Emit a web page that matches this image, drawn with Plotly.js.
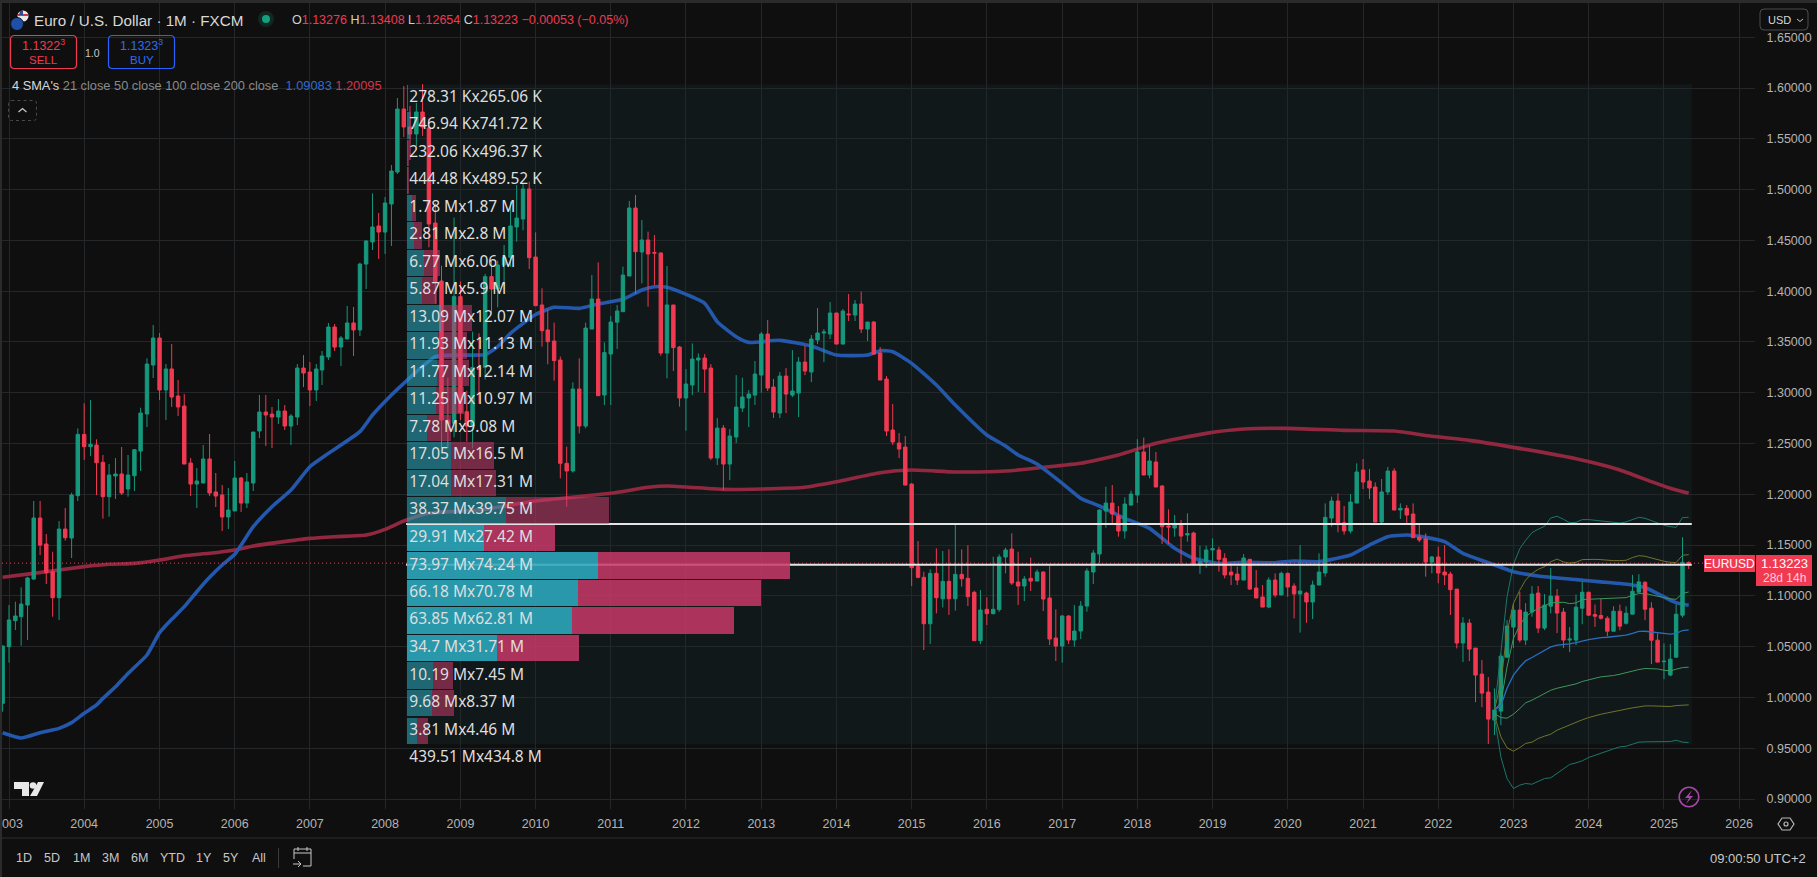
<!DOCTYPE html>
<html><head><meta charset="utf-8">
<script src="https://cdn.plot.ly/plotly-3.0.1.min.js"></script>
<style>html,body{margin:0;padding:0;background:#2b2b2b;overflow:hidden;width:1817px;height:877px}
#c{position:absolute;left:2px;top:3px;width:1815px;height:874px}</style></head><body><div id="c"></div>
<script>
// monthly candles, Dec 2002 .. May 2025
const firstMonth=[2002,12];
const opens=[.9942,
1.0500,1.0756,1.0795,1.0910,1.1166,1.1767,1.1511,1.1238,1.0982,1.1658,1.1570,1.1987,
1.2590,1.2469,1.2485,1.2315,1.1977,1.2180,1.2200,1.2052,1.2183,1.2426,1.2791,1.3273,
1.3539,1.3027,1.3234,1.2968,1.2869,1.2308,1.2101,1.2111,1.2348,1.2023,1.1993,1.1777,
1.1836,1.2161,1.1914,1.2111,1.2623,1.2810,1.2790,1.2761,1.2820,1.2672,1.2761,1.3243,
1.3204,1.3027,1.3224,1.3352,1.3647,1.3450,1.3529,1.3687,1.3618,1.4267,1.4484,1.4642,
1.4582,1.4858,1.5173,1.5793,1.5616,1.5547,1.5764,1.5606,1.4671,1.4100,1.2730,1.2700,
1.3946,1.2813,1.2672,1.3250,1.3250,1.4143,1.4021,1.4258,1.4333,1.4632,1.4710,1.5006,
1.4336,1.3864,1.3618,1.3509,1.3322,1.2305,1.2230,1.3037,1.2672,1.3627,1.3923,1.2978,
1.3381,1.3695,1.3798,1.4149,1.4819,1.4386,1.4504,1.4380,1.4376,1.3391,1.3864,1.3450,
1.2948,1.3076,1.3322,1.3342,1.3243,1.2357,1.2652,1.2298,1.2564,1.2849,1.2948,1.2977,
1.3174,1.3578,1.3056,1.2800,1.3164,1.2977,1.2997,1.3302,1.3204,1.3519,1.3588,1.3578,
1.3785,1.3479,1.3775,1.3765,1.3873,1.3627,1.3696,1.3391,1.3135,1.2633,1.2505,1.2465,
1.2101,1.1288,1.1183,1.0726,1.1222,1.0972,1.1143,1.0972,1.1212,1.1173,1.1035,1.0559,
1.0868,1.0825,1.0865,1.1383,1.1461,1.1137,1.1097,1.1173,1.1146,1.1235,1.0979,1.0585,
1.0506,1.0802,1.0565,1.0654,1.0900,1.1235,1.1412,1.1836,1.1914,1.1786,1.1639,1.1895,
1.1993,1.2417,1.2190,1.2318,1.2082,1.1688,1.1668,1.1708,1.1600,1.1619,1.1304,1.1337,
1.1452,1.1452,1.1370,1.1235,1.1215,1.1156,1.1360,1.1077,1.0989,1.0890,1.1156,1.1009,
1.1222,1.1097,1.1019,1.1028,1.0940,1.1107,1.1225,1.1766,1.1934,1.1721,1.1639,1.1914,
1.2239,1.2131,1.2072,1.1727,1.2023,1.2229,1.1845,1.1862,1.1806,1.1580,1.1560,1.1333,
1.1383,1.1235,1.1215,1.1067,1.0536,1.0732,1.0486,1.0230,1.0053,.9777,.9866,1.0397,
1.0693,1.0860,1.0565,1.0841,1.1028,1.0683,1.0899,1.0998,1.0841,1.0565,1.0565,1.0879,
1.1036,1.0816,1.0807,1.0780,1.0652,1.0849,1.0731,1.0820,1.1036,1.1134,1.0879,1.0564,
1.0352,1.0220,1.0397,1.0810,1.13276];
const closes=[1.0507,
1.0763,1.0802,1.0920,1.1176,1.1767,1.1501,1.1228,1.0982,1.1658,1.1573,1.1993,1.2590,
1.2469,1.2492,1.2311,1.1977,1.2190,1.2200,1.2013,1.2190,1.2439,1.2800,1.3283,1.3539,
1.3027,1.3234,1.2958,1.2860,1.2298,1.2101,1.2131,1.2348,1.2013,1.1983,1.1777,1.1845,
1.2161,1.1914,1.2121,1.2613,1.2810,1.2781,1.2761,1.2820,1.2672,1.2771,1.3243,1.3194,
1.3027,1.3234,1.3362,1.3647,1.3450,1.3539,1.3687,1.3618,1.4267,1.4494,1.4632,1.4582,
1.4868,1.5183,1.5793,1.5616,1.5547,1.5764,1.5616,1.4661,1.4090,1.2732,1.2696,1.3946,
1.2804,1.2672,1.3250,1.3230,1.4143,1.4021,1.4258,1.4330,1.4642,1.4720,1.5006,1.4330,
1.3857,1.3611,1.3503,1.3316,1.2305,1.2230,1.3037,1.2672,1.3637,1.3923,1.2971,1.3395,
1.3696,1.3805,1.4159,1.4819,1.4389,1.4504,1.4366,1.4375,1.3391,1.3864,1.3444,1.2948,
1.3086,1.3332,1.3342,1.3233,1.2357,1.2652,1.2298,1.2574,1.2859,1.2958,1.2987,1.3184,
1.3578,1.3046,1.2810,1.3164,1.2987,1.3017,1.3302,1.3214,1.3529,1.3588,1.3598,1.3785,
1.3479,1.3804,1.3768,1.3873,1.3627,1.3696,1.3381,1.3125,1.2623,1.2515,1.2446,1.2091,
1.1278,1.1183,1.0726,1.1222,1.0982,1.1143,1.0972,1.1212,1.1169,1.0992,1.0559,1.0861,
1.0825,1.0868,1.1383,1.1452,1.1127,1.1097,1.1166,1.1146,1.1235,1.0969,1.0575,1.0506,
1.0802,1.0565,1.0654,1.0900,1.1245,1.1422,1.1845,1.1914,1.1806,1.1639,1.1904,1.2003,
1.2417,1.2190,1.2328,1.2072,1.1681,1.1678,1.1708,1.1589,1.1613,1.1304,1.1337,1.1452,
1.1465,1.1360,1.1206,1.1206,1.1156,1.1373,1.1068,1.0979,1.0890,1.1156,1.1009,1.1222,
1.1087,1.1019,1.1048,1.0940,1.1107,1.1235,1.1773,1.1934,1.1721,1.1639,1.1924,1.2220,
1.2121,1.2062,1.1727,1.2023,1.2229,1.1845,1.1862,1.1796,1.1573,1.1550,1.1333,1.1383,
1.1225,1.1206,1.1061,1.0536,1.0732,1.0476,1.0220,1.0043,.9787,.9876,1.0407,1.0703,
1.0860,1.0565,1.0841,1.1018,1.0683,1.0909,1.0998,1.0831,1.0565,1.0575,1.0889,1.1036,
1.0810,1.0800,1.0780,1.0652,1.0849,1.0702,1.0830,1.1046,1.1138,1.0869,1.0564,1.0348,
1.0357,1.0377,1.0820,1.1331,1.13223];
const highs=[1.0510,
1.0910,1.0943,1.1084,1.1189,1.1934,1.1934,1.1609,1.1435,1.1737,1.1865,1.2016,1.2649,
1.2896,1.2928,1.2541,1.2387,1.2298,1.2357,1.2466,1.2387,1.2446,1.2853,1.3339,1.3667,
1.3588,1.3283,1.3480,1.3125,1.2987,1.2357,1.2259,1.2485,1.2594,1.2210,1.2092,1.2062,
1.2328,1.2170,1.2210,1.2613,1.2978,1.2978,1.2860,1.2938,1.2879,1.2791,1.3283,1.3371,
1.3303,1.3283,1.3411,1.3687,1.3677,1.3559,1.3854,1.3844,1.4280,1.4500,1.4963,1.4770,
1.4927,1.5242,1.5902,1.6020,1.5823,1.5853,1.6038,1.5700,1.4867,1.4250,1.3150,1.4724,
1.4094,1.3020,1.3600,1.3585,1.4170,1.4300,1.4300,1.4455,1.4881,1.5045,1.5062,1.5078,
1.4579,1.4028,1.3821,1.3690,1.3355,1.2469,1.3102,1.3339,1.3690,1.4159,1.4284,1.3496,
1.3755,1.3864,1.4241,1.4888,1.4947,1.4701,1.4586,1.4553,1.4380,1.4248,1.3864,1.3460,
1.3233,1.3486,1.3387,1.3381,1.3282,1.2751,1.2682,1.2643,1.3174,1.3148,1.3027,1.3312,
1.3598,1.3716,1.3135,1.3204,1.3243,1.3420,1.3351,1.3460,1.3568,1.3834,1.3627,1.3893,
1.3785,1.3824,1.3972,1.3913,1.3995,1.3696,1.3706,1.3450,1.3164,1.2889,1.2603,1.2574,
1.2110,1.1540,1.1238,1.1261,1.1468,1.1442,1.1458,1.1698,1.1458,1.1498,1.1051,1.1058,
1.0986,1.1386,1.1409,1.1475,1.1616,1.1435,1.1195,1.1376,1.1261,1.1240,1.1297,1.0867,
1.0811,1.0810,1.0910,1.0949,1.1271,1.1452,1.1850,1.2075,1.2092,1.1885,1.1970,1.2036,
1.2544,1.2558,1.2479,1.2417,1.2090,1.1852,1.1796,1.1747,1.1813,1.1632,1.1494,1.1494,
1.1566,1.1484,1.1419,1.1320,1.1288,1.1412,1.1365,1.1255,1.1107,1.1183,1.1222,1.1238,
1.1230,1.1124,1.1501,1.1041,1.1150,1.1419,1.1911,1.1977,1.2010,1.1885,1.2003,1.2305,
1.2348,1.2249,1.2118,1.2151,1.2269,1.2256,1.1911,1.1895,1.1911,1.1698,1.1616,1.1393,
1.1484,1.1501,1.1238,1.1067,1.0791,1.0772,1.0486,1.0368,1.0201,1.0089,1.0434,1.0762,
1.0926,1.1038,1.0929,1.1097,1.1097,1.1018,1.1274,1.1067,1.0880,1.0693,1.1013,1.1138,
1.1040,1.0915,1.0974,1.0800,1.0898,1.0915,1.0898,1.1207,1.1213,1.1144,1.0938,1.0630,
1.0531,1.0525,1.0918,1.1577,1.13408];
const lows=[.9860,
1.0343,1.0664,1.0510,1.0566,1.1156,1.1402,1.1117,1.0795,1.0762,1.1544,1.1373,1.1934,
1.2338,1.2377,1.1992,1.1760,1.1780,1.1954,1.1993,1.1977,1.2032,1.2229,1.2663,1.3145,
1.2928,1.2732,1.2860,1.2771,1.2298,1.1983,1.1865,1.2111,1.1983,1.1875,1.1639,1.1658,
1.1836,1.1826,1.1865,1.2032,1.2554,1.2476,1.2456,1.2692,1.2633,1.2485,1.2682,1.3056,
1.2869,1.2919,1.3076,1.3322,1.3411,1.3263,1.3529,1.3362,1.3559,1.4021,1.4405,1.4317,
1.4366,1.4445,1.5154,1.5518,1.5291,1.5429,1.5528,1.4432,1.3878,1.2453,1.2453,1.2561,
1.2730,1.2518,1.2453,1.2890,1.3130,1.3782,1.3841,1.4061,1.4241,1.4487,1.4600,1.4218,
1.3857,1.3454,1.3280,1.3119,1.2157,1.1878,1.2213,1.2600,1.2650,1.3627,1.2971,1.2879,
1.2879,1.3431,1.3798,1.4149,1.3972,1.4077,1.3847,1.4061,1.3365,1.3142,1.3214,1.2863,
1.2626,1.2977,1.3007,1.3000,1.2337,1.2288,1.2042,1.2140,1.2505,1.2810,1.2662,1.2879,
1.3000,1.3017,1.2751,1.2751,1.2800,1.2958,1.2761,1.3174,1.3105,1.3479,1.3302,1.3529,
1.3479,1.3479,1.3706,1.3706,1.3588,1.3509,1.3371,1.3125,1.2574,1.2485,1.2357,1.2091,
1.1097,1.1173,1.0467,1.0526,1.0828,1.0887,1.0812,1.0854,1.1091,1.0900,1.0559,1.0526,
1.0713,1.0818,1.0844,1.1222,1.1107,1.0910,1.0949,1.1048,1.1146,1.0851,1.0516,1.0359,
1.0342,1.0526,1.0500,1.0575,1.0844,1.1117,1.1320,1.1671,1.1714,1.1583,1.1563,1.1885,
1.1914,1.2190,1.2157,1.2072,1.1511,1.1511,1.1583,1.1320,1.1534,1.1304,1.1215,1.1278,
1.1304,1.1238,1.1173,1.1107,1.1107,1.1156,1.1058,1.0979,1.0890,1.0879,1.0985,1.1009,
1.0992,1.0779,1.0638,1.0736,1.0772,1.1107,1.1189,1.1681,1.1626,1.1603,1.1616,1.1914,
1.2052,1.1954,1.1727,1.1704,1.1993,1.1845,1.1757,1.1714,1.1573,1.1530,1.1189,1.1222,
1.1124,1.1107,1.0812,1.0483,1.0348,1.0358,.9954,.9905,.9541,.9630,.9728,1.0390,
1.0486,1.0542,1.0516,1.0795,1.0634,1.0663,1.0827,1.0634,1.0486,1.0447,1.0515,1.0721,
1.0805,1.0695,1.0767,1.0603,1.0652,1.0662,1.0718,1.0820,1.1036,1.0761,1.0328,1.0348,
1.0180,1.0210,1.0390,1.0787,1.12654];

// moving averages
const sma100Dates=['2002-12','2003-03','2003-06','2003-09','2003-11','2004-01','2004-03','2004-04','2004-06','2004-08','2004-11','2005-01','2005-03','2005-05','2005-07','2005-09','2005-11','2006-01','2006-04','2006-07','2006-10','2007-01','2007-04','2007-09','2007-11','2008-02','2008-04','2008-09','2009-01','2009-05','2009-07','2009-09','2010-01','2010-04','2010-08','2010-11','2011-03','2011-06','2011-08','2011-10','2011-12','2012-04','2012-06','2012-09','2012-11','2013-04','2013-09','2014-01','2014-06','2014-08','2014-10','2015-01','2015-05','2015-08','2016-01','2016-04','2016-06','2016-09','2017-01','2017-04','2017-07','2017-11','2018-03','2018-07','2018-10','2019-02','2019-06','2019-11','2020-02','2020-06','2020-11','2021-02','2021-05','2021-08','2021-11','2022-02','2022-05','2022-09','2023-01','2023-05','2023-11','2024-03','2024-08','2024-10','2025-01','2025-03','2025-05'];
const sma100=[.9653,.9601,.9653,.9696,.9752,.9844,.9926,.9991,1.0106,1.0237,1.0418,1.0638,1.0769,1.0894,1.1041,1.1183,1.1304,1.1410,1.1681,1.1878,1.2042,1.2272,1.2403,1.2617,1.2781,1.2978,1.3093,1.3355,1.3371,1.3375,1.3454,1.3585,1.3770,1.3841,1.3831,1.3874,1.3920,1.4012,1.4044,1.4038,1.3995,1.3880,1.3699,1.3552,1.3496,1.3516,1.3460,1.3371,1.3371,1.3414,1.3404,1.3289,1.3076,1.2879,1.2584,1.2476,1.2387,1.2298,1.2108,1.1960,1.1885,1.1763,1.1665,1.1468,1.1370,1.1320,1.1330,1.1327,1.1343,1.1337,1.1402,1.1501,1.1583,1.1599,1.1576,1.1534,1.1419,1.1326,1.1238,1.1195,1.1160,1.1138,1.1108,1.1082,1.0990,1.0934,1.0908];
const sma200Dates=['2002-12','2003-05','2004-01','2004-05','2004-09','2005-01','2005-05','2005-09','2006-01','2006-04','2006-08','2007-01','2007-05','2007-10','2008-01','2008-04','2008-08','2009-04','2010-01','2011-01','2011-07','2011-10','2012-07','2013-01','2013-08','2014-01','2014-08','2015-01','2015-08','2016-04','2017-01','2017-04','2017-10','2018-04','2018-12','2019-06','2020-01','2020-10','2021-06','2021-12','2022-06','2023-01','2023-11','2024-06','2024-11','2025-02','2025-05'];
const sma200=[1.1183,1.1222,1.1288,1.1311,1.1320,1.1353,1.1396,1.1419,1.1452,1.1491,1.1527,1.1566,1.1583,1.1599,1.1655,1.1737,1.1813,1.1845,1.1934,1.2010,1.2069,1.2082,1.2049,1.2052,1.2069,1.2124,1.2213,1.2239,1.2220,1.2229,1.2285,1.2305,1.2387,1.2502,1.2600,1.2643,1.2649,1.2630,1.2623,1.2571,1.2531,1.2462,1.2350,1.2240,1.2125,1.2060,1.2010];

// anchored VWAP and bands, Oct 2022 .. May 2025
const bandFirst=[2022,10];
const vwap =[.9876,.9920,1.0090,1.0220,1.0300,1.0360,1.0393,1.0426,1.0466,1.0498,1.0515,1.0520,1.0528,1.0541,1.0557,1.0570,1.0580,1.0590,1.0593,1.0600,1.0607,1.0613,1.0630,1.0650,1.0652,1.0646,1.0636,1.0630,1.0623,1.0630,1.0659,1.0666];
const upper1=[.9876,.9950,1.0300,1.0581,1.0713,1.0795,1.0844,1.0877,1.0903,1.0932,1.0932,1.0937,1.0924,1.0931,1.0964,1.0967,1.0970,1.0970,1.0970,1.0973,1.0980,1.0983,1.1006,1.1023,1.1023,1.1010,1.1000,1.0983,1.0970,1.0967,1.1023,1.1039];
const upper2=[.9876,1.0150,1.0640,1.0925,1.1057,1.1156,1.1221,1.1261,1.1287,1.1336,1.1362,1.1334,1.1324,1.1331,1.1357,1.1360,1.1360,1.1357,1.1351,1.1347,1.1347,1.1351,1.1377,1.1396,1.1390,1.1373,1.1357,1.1341,1.1331,1.1328,1.1400,1.1406];
const upper3=[.9876,1.0434,1.0992,1.1310,1.1465,1.1547,1.1623,1.1656,1.1685,1.1767,1.1784,1.1754,1.1721,1.1724,1.1751,1.1751,1.1744,1.1738,1.1728,1.1721,1.1718,1.1728,1.1751,1.1774,1.1764,1.1741,1.1718,1.1695,1.1682,1.1675,1.1770,1.1774];
const lower1=[.9842,.9802,.9796,.9835,.9891,.9947,.9973,1.0006,1.0039,1.0071,1.0091,1.0104,1.0117,1.0134,1.0157,1.0176,1.0189,1.0203,1.0209,1.0216,1.0229,1.0245,1.0262,1.0275,1.0285,1.0285,1.0281,1.0268,1.0262,1.0278,1.0294,1.0298];
const lower2=[.9825,.9612,.9504,.9471,.9507,.9547,.9560,.9596,.9619,.9638,.9678,.9704,.9734,.9753,.9780,.9802,.9822,.9835,.9848,.9861,.9875,.9888,.9898,.9907,.9917,.9917,.9917,.9911,.9911,.9920,.9927,.9927];
const lower3=[.9809,.9415,.9202,.9104,.9137,.9153,.9146,.9176,.9202,.9209,.9251,.9297,.9340,.9356,.9376,.9409,.9432,.9455,.9474,.9494,.9514,.9520,.9540,.9560,.9563,.9563,.9560,.9560,.9566,.9579,.9560,.9556];

// volume profile (millions), top row first
const binPrices=[1.5903,1.5632,1.5361,1.5090,1.4819,1.4548,1.4278,1.4007,1.3736,1.3465,1.3194,1.2923,1.2653,1.2382,1.2111,1.1840,1.1569,1.1298,1.1028,1.0757,1.0486,1.0215,.9944,.9673];
const upVol=[.27831,.74694,.23206,.44448,1.78,2.81,6.77,5.87,13.09,11.93,11.77,11.25,7.78,17.05,17.04,38.37,29.91,73.97,66.18,63.85,34.7,10.19,9.68,3.81];
const downVol=[.26506,.74172,.49637,.48952,1.87,2.8,6.06,5.9,12.07,11.13,12.14,10.97,9.08,16.5,17.31,39.75,27.42,74.24,70.78,62.81,31.71,7.45,8.37,4.46];
const volLabels=['278.31 Kx265.06 K','746.94 Kx741.72 K','232.06 Kx496.37 K','444.48 Kx489.52 K','1.78 Mx1.87 M','2.81 Mx2.8 M','6.77 Mx6.06 M','5.87 Mx5.9 M','13.09 Mx12.07 M','11.93 Mx11.13 M','11.77 Mx12.14 M','11.25 Mx10.97 M','7.78 Mx9.08 M','17.05 Mx16.5 M','17.04 Mx17.31 M','38.37 Mx39.75 M','29.91 Mx27.42 M','73.97 Mx74.24 M','66.18 Mx70.78 M','63.85 Mx62.81 M','34.7 Mx31.71 M','10.19 Mx7.45 M','9.68 Mx8.37 M','3.81 Mx4.46 M'];
const valueArea=[16,17,18,19,20];
const totalLabel='439.51 Mx434.8 M', totalPrice=.9404;
const pocPrice=1.1307, vahPrice=1.1707, lastPrice=1.13223;
const profileSpan=['2008-04-12','2025-05-16'];

const monthSeq=(start,n)=>Array.from({length:n},(_,i)=>{const t=start[0]*12+start[1]-1+i;return Math.floor(t/12)+'-'+String(t%12+1).padStart(2,'0')+'-01'});
const dates=monthSeq(firstMonth,opens.length), bandDates=monthSeq(bandFirst,vwap.length);

const L=2,R=1755,T=3,B=809;
const fx=x=>(+x-L)/(R-L), fy=y=>1-(+y-T)/(B-T);
const FONT='"Liberation Sans", Arial, sans-serif', FG='#c8c8c8';
const GREEN='#16987d', RED='#f03a52';
const dateRange=['2002-11-28','2026-03-19'];
const pxPerM=2.584, volLeft=407;

const line=(x,y,color,width,axis,extra)=>Object.assign({type:'scatter',mode:'lines',x,y,xaxis:axis,yaxis:'y',line:Object.assign({color,width},extra||{}),hoverinfo:'skip'});
const isVA=i=>valueArea.includes(i);
const data=[
 line(sma200Dates.map(d=>d+'-01'),sma200,'rgb(146,40,64)',3.6,'x',{shape:'spline',smoothing:.5}),
 line(sma100Dates.map(d=>d+'-01'),sma100,'rgb(36,88,172)',3.6,'x',{shape:'spline',smoothing:.5}),
 {type:'candlestick',x:dates,open:opens,high:highs,low:lows,close:closes,xaxis:'x2',yaxis:'y',
  increasing:{line:{color:GREEN,width:1},fillcolor:GREEN},decreasing:{line:{color:RED,width:1},fillcolor:RED},whiskerwidth:0,hoverinfo:'skip'},
 line(bandDates,upper3,'rgb(28,118,108)',1,'x2'),
 line(bandDates,lower3,'rgb(28,118,108)',1,'x2'),
 line(bandDates,upper2,'rgb(112,116,42)',1,'x2'),
 line(bandDates,lower2,'rgb(112,116,42)',1,'x2'),
 line(bandDates,upper1,'rgb(62,150,90)',1,'x2'),
 line(bandDates,lower1,'rgb(62,150,90)',1,'x2'),
 line(bandDates,vwap,'rgb(42,110,190)',1.3,'x2'),
 line(dateRange,[lastPrice,lastPrice],'rgb(240,58,82)',1,'x2',{dash:'1px,3px'}),
 line(profileSpan,[vahPrice,vahPrice],'rgb(228,228,228)',2,'x2'),
 line(profileSpan,[pocPrice,pocPrice],'rgb(228,228,228)',2,'x2'),
 {type:'bar',orientation:'h',x:upVol,y:binPrices,xaxis:'x3',yaxis:'y',hoverinfo:'skip',
  marker:{color:binPrices.map((_,i)=>isVA(i)?'rgba(44,170,190,.88)':'rgba(44,170,190,.55)'),line:{width:0}}},
 {type:'bar',orientation:'h',x:downVol,y:binPrices,xaxis:'x3',yaxis:'y',hoverinfo:'skip',
  marker:{color:binPrices.map((_,i)=>isVA(i)?'rgba(200,58,105,.85)':'rgba(200,58,105,.55)'),line:{width:0}}},
 {type:'scatter',mode:'text',x:binPrices.map(()=>.9).concat([.9]),y:binPrices.concat([totalPrice]),text:volLabels.concat([totalLabel]),
  textposition:'middle right',textfont:{family:'"Noto Sans", sans-serif',size:15.5,color:'rgb(222,222,222)'},xaxis:'x3',yaxis:'y',hoverinfo:'skip'}
];

const pathPx=s=>s.replace(/(-?[\d.]+) (-?[\d.]+)/g,(m,a,b)=>fx(a)+' '+fy(b));
const rrect=(x0,y0,x1,y1,r)=>pathPx(`M ${x0+r} ${y0} L ${x1-r} ${y0} Q ${x1} ${y0} ${x1} ${y0+r} L ${x1} ${y1-r} Q ${x1} ${y1} ${x1-r} ${y1} L ${x0+r} ${y1} Q ${x0} ${y1} ${x0} ${y1-r} L ${x0} ${y0+r} Q ${x0} ${y0} ${x0+r} ${y0} Z`);
const pshape=(path,fill,stroke,w,dash)=>({type:'path',xref:'paper',yref:'paper',path,fillcolor:fill||'rgba(0,0,0,0)',line:{color:stroke||'rgba(0,0,0,0)',width:w===undefined?1:w,dash:dash||'solid'}});
const circ=(cx,cy,r,fill,stroke,w)=>({type:'circle',xref:'paper',yref:'paper',x0:fx(cx-r),x1:fx(cx+r),y0:fy(cy+r),y1:fy(cy-r),fillcolor:fill||'rgba(0,0,0,0)',line:{color:stroke||'rgba(0,0,0,0)',width:w||0}});

const shapes=[
 {type:'rect',layer:'below',xref:'x',yref:'y',x0:profileSpan[0],x1:profileSpan[1],y0:.954,y1:1.6038,fillcolor:'rgb(17,24,26)',line:{width:0}},
 // flag logo
 circ(23,16,5.5,'#e8e8e8'),pshape(pathPx('M 18 14 L 28 14 L 28 16 L 18 16 Z'),'#d8324a'),pshape(pathPx('M 20 11 L 23 11 L 23 15 L 19 15 Z'),'#2a4a9a'),
 circ(17,24,6.5,'#1f4fa8','#0f0f0f',1),
 // market status
 circ(266,19,8,'rgba(20,150,120,.18)'),circ(266,19,4,'#12a07f'),
 // sell / buy
 pshape(rrect(10.5,35.5,76.5,68.5,4),'rgba(0,0,0,0)','#f03a52',1.2),
 pshape(rrect(108.5,35.5,174.5,68.5,4),'rgba(0,0,0,0)','#2962ff',1.2),
 // collapse
 pshape(rrect(8.5,100.5,36.5,120.5,3),'rgba(0,0,0,0)','#4a4a4a',1,'dot'),
 pshape(pathPx('M 18.5 112 L 22.5 108.5 L 26.5 112'),null,'#c8c8c8',1.2),
 // USD
 pshape(rrect(1760,9,1808,30,4),'#0f0f0f','#4c4c4c',1),
 pshape(pathPx('M 1797 19 L 1800 21.5 L 1803 19'),null,'#c8c8c8',1),
 // last price labels
 {type:'rect',xref:'paper',yref:'paper',x0:fx(1704),x1:fx(1755),y0:fy(572),y1:fy(555),fillcolor:RED,line:{width:0}},
 {type:'rect',xref:'paper',yref:'paper',x0:fx(1756),x1:fx(1812),y0:fy(586),y1:fy(555),fillcolor:RED,line:{width:0}},
 // lightning button
 circ(1689,797,9.8,'rgba(0,0,0,0)','#a348a8',1.6),
 pshape(pathPx('M 1692 790 L 1685 798 L 1689 798 L 1686 804 L 1693 796 L 1689 796 Z'),'#a348a8'),
 // settings hexagon
 pshape(pathPx('M 1782 818 L 1790 818 L 1794 824 L 1790 830 L 1782 830 L 1778 824 Z'),null,'#b8b8b8',1.2),
 circ(1786,824,2,null,'#b8b8b8',1.2),
 // TV logo
 pshape(pathPx('M 14 782 L 29 782 L 29 796 L 22 796 L 22 789 L 14 789 Z'),'#e8e8e8'),
 circ(33,785.5,3.3,'#e8e8e8'),
 pshape(pathPx('M 38 782 L 44 782 L 37 796 L 30 796 Z'),'#e8e8e8'),
 // bottom toolbar
 {type:'line',xref:'paper',yref:'paper',x0:fx(2),x1:fx(1817),y0:fy(838),y1:fy(838),line:{color:'#2e2e2e',width:1}},
 {type:'line',xref:'paper',yref:'paper',x0:fx(278.5),x1:fx(278.5),y0:fy(848),y1:fy(868),line:{color:'#3a3a3a',width:1}},
 pshape(pathPx('M 294 853 L 311 853 L 311 866 L 303 866 M 294 853 L 294 859 M 294 849 L 311 849 L 311 853 M 294 849 L 294 853 M 298 847 L 298 851 M 307 847 L 307 851 M 293 864 L 301 864 M 298 861 L 301 864 L 298 867'),null,'#c8c8c8',1)
];

const A=(x,y,text,size,color,anchor,fam)=>({xref:'paper',yref:'paper',x:fx(x),y:fy(y),text,showarrow:false,xanchor:anchor||'left',yanchor:'middle',align:anchor||'left',borderpad:0,
  font:{family:fam||FONT,size:size||12,color:color||FG}});
const r=s=>`<span style="color:#f03a52">${s}</span>`;
const annotations=[
 A(33,20,'Euro / U.S. Dollar · 1M · FXCM',15.2,'#d8d8d8'),
 A(291,20,'O'+r('1.13276')+' H'+r('1.13408')+' L'+r('1.12654')+' C'+r('1.13223')+' '+r('−0.00053 (−0.05%)'),12.5,'#d0d0d0'),
 A(43.5,45.5,'1.1322<sup>3</sup>',12.5,'#f03a52','center'),
 A(43.5,60,'SELL',11.5,'#f03a52','center'),
 A(92,52.5,'1.0',10.5,'#c8c8c8','center'),
 A(141.5,45.5,'1.1323<sup>3</sup>',12.5,'#2f6bf0','center'),
 A(141.5,60,'BUY',11.5,'#2f6bf0','center'),
 A(11,85.5,'<span style="color:#d8d8d8">4 SMA\'s</span> <span style="color:#8a8a8a">21 close 50 close 100 close 200 close</span>  <span style="color:#2f6bd0">1.09083</span> <span style="color:#d8324a">1.20095</span>',12.8,'#8a8a8a'),
 A(1767,19.5,'USD',11,'#d8d8d8'),
 A(1729.5,563.5,'EURUSD',12,'#ffffff','center'),
 A(1784,563.5,'1.13223',13,'#ffffff','center'),
 A(1784,578,'28d 14h',12,'#ffd0d6','center'),
 A(24,858,'1D',12.5,FG,'center'),A(52,858,'5D',12.5,FG,'center'),A(81,858,'1M',12.5,FG,'center'),A(110,858,'3M',12.5,FG,'center'),
 A(139,858,'6M',12.5,FG,'center'),A(172,858,'YTD',12.5,FG,'center'),A(204,858,'1Y',12.5,FG,'center'),A(231,858,'5Y',12.5,FG,'center'),A(259,858,'All',12.5,FG,'center'),
 A(1807,858,'09:00:50 UTC+2',13,FG,'right')
];

const GRID='rgb(36,39,41)';
const layout={width:1815,height:874,margin:{l:0,r:62,t:0,b:65},paper_bgcolor:'#0f0f0f',plot_bgcolor:'#0f0f0f',showlegend:false,
 barmode:'stack',bargap:.04,boxgap:.15,hovermode:false,dragmode:false,
 xaxis:{type:'date',range:dateRange,dtick:'M12',tick0:'2003-01-01',tickformat:'%Y',showgrid:true,gridcolor:GRID,gridwidth:1,zeroline:false,
   ticks:'outside',ticklen:3,tickcolor:'rgba(0,0,0,0)',ticklabeloverflow:'allow',tickfont:{family:FONT,size:12.5,color:'#b4b4b4'},showline:false,rangeslider:{visible:false}},
 xaxis2:{type:'date',overlaying:'x',range:dateRange,visible:false,rangeslider:{visible:false}},
 xaxis3:{type:'linear',overlaying:'x',range:[(L-volLeft)/pxPerM,(R-volLeft)/pxPerM],visible:false},
 yaxis:{type:'linear',side:'right',range:[.8902,1.6837],dtick:.05,tick0:.9,tickformat:'.5f',showgrid:true,gridcolor:GRID,gridwidth:1,zeroline:false,
   ticks:'outside',ticklen:8,tickcolor:'rgba(0,0,0,0)',tickfont:{family:FONT,size:12.5,color:'#b4b4b4'},showline:false},
 shapes,annotations};
layout.margin.b=874-(B-T);
Plotly.newPlot('c',data,layout,{displayModeBar:false,staticPlot:true});
</script></body></html>
